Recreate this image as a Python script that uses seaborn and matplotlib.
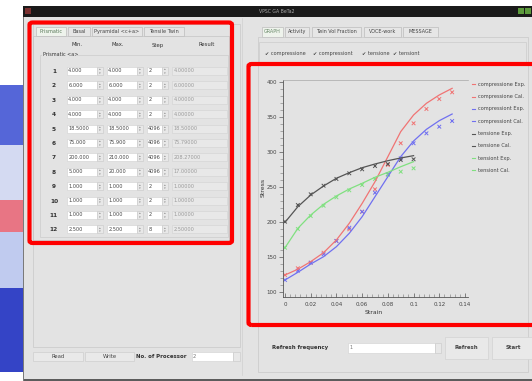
import matplotlib
matplotlib.use("Agg")
import matplotlib.pyplot as plt
import seaborn as sns
import pandas as pd
from matplotlib.patches import Rectangle, FancyBboxPatch
from matplotlib.lines import Line2D
from matplotlib.ticker import AutoMinorLocator

# ---------------- chart data ----------------
strain_comp = [0.00, 0.01, 0.02, 0.03, 0.04, 0.05, 0.06, 0.07, 0.08, 0.09, 0.10, 0.11, 0.12, 0.13]
comp_e_exp = [124.7, 134.3, 142.3, 156.6, 173.3, 190.0, 215.1, 247.1, 281.9, 312.9, 341.4, 361.9, 376.1, 385.7]
comp_e_cal = [124.7, 133.0, 143.8, 156.6, 174.8, 198.6, 227.0, 258.0, 293.7, 329.5, 353.3, 370.0, 381.9, 391.4]
comp_t_exp = [117.6, 130.9, 142.3, 154.3, 173.3, 192.3, 215.1, 242.3, 268.6, 291.4, 312.9, 327.1, 336.6, 344.7]
comp_t_cal = [117.6, 128.6, 140.4, 150.9, 165.2, 184.3, 208.0, 236.6, 265.2, 293.8, 316.1, 332.8, 345.2, 354.7]

strain_ten = [0.00, 0.01, 0.02, 0.03, 0.04, 0.05, 0.06, 0.07, 0.08, 0.09, 0.10]
ten_e_exp = [200.9, 224.7, 240.0, 252.3, 261.9, 270.0, 275.7, 280.4, 283.3, 289.0, 290.0]
ten_e_cal = [200.0, 222.3, 239.0, 251.9, 262.9, 270.9, 278.0, 283.3, 288.0, 291.9, 295.2]
ten_t_exp = [163.7, 190.4, 209.0, 223.7, 235.7, 245.7, 253.3, 261.9, 268.0, 272.3, 277.1]
ten_t_cal = [163.7, 191.4, 210.4, 225.7, 237.6, 247.6, 255.7, 264.3, 271.4, 279.4, 286.6]

legend_labels = ["compressione Exp.", "compressione Cal.", "compressiont Exp.", "compressiont Cal.",
                 "tensione Exp.", "tensione Cal.", "tensiont Exp.", "tensiont Cal."]
y_ticks = [100, 150, 200, 250, 300, 350, 400]
x_ticks = [0, 0.02, 0.04, 0.06, 0.08, 0.1, 0.12, 0.14]
x_tick_labels = ["0", "0.02", "0.04", "0.06", "0.08", "0.1", "0.12", "0.14"]

# ---------------- GUI texts ----------------
left_tabs = ["Prismatic", "Basal", "Pyramidal <c+a>", "Tensile Twin"]
right_tabs = ["GRAPH", "Activity", "Twin Vol Fraction", "VOCE-work", "MESSAGE"]
check_items = ["compressione", "compressiont", "tensione", "tensiont"]
row_labels = [str(i) for i in range(1, 13)]
min_vals = ["4.000", "6.000", "4.000", "4.000", "18.5000", "75.000", "200.000", "5.000", "1.000", "1.000", "1.000", "2.500"]
max_vals = ["4.000", "6.000", "4.000", "4.000", "18.5000", "75.900", "210.000", "20.000", "1.000", "1.000", "1.000", "2.500"]
step_vals = ["2", "2", "2", "2", "4096", "4096", "4096", "4096", "2", "2", "2", "8"]
result_vals = ["4.00000", "6.00000", "4.00000", "4.00000", "18.50000", "75.79000", "208.27000", "17.00000",
               "1.00000", "1.00000", "1.00000", "2.50000"]

W, H = 532, 381
fig = plt.figure(figsize=(W / 100, H / 100), dpi=100)
fig.patch.set_facecolor("white")


def R(x0, y0, x1, y1, fc="none", ec="none", lw=0.0, z=1, **kw):
    p = Rectangle((x0 / W, 1 - y1 / H), (x1 - x0) / W, (y1 - y0) / H, transform=fig.transFigure,
                  facecolor=fc, edgecolor=ec, linewidth=lw, zorder=z, **kw)
    fig.patches.append(p)
    return p


def T(x, y, s, size=4, color="#333333", ha="left", va="center", z=3, **kw):
    return fig.text(x / W, 1 - y / H, s, fontsize=size, color=color, ha=ha, va=va, zorder=z, **kw)


def L(x0, y0, x1, y1, color="#888888", lw=0.5, z=2):
    fig.lines.append(Line2D([x0 / W, x1 / W], [1 - y0 / H, 1 - y1 / H], transform=fig.transFigure,
                            color=color, linewidth=lw, zorder=z))


# desktop strip on the left
R(0, 85, 23, 145, fc="#5566d8")
R(0, 145, 23, 200, fc="#d4daf2")
R(0, 200, 23, 232, fc="#e87584")
R(0, 232, 23, 288, fc="#c0cbef")
R(0, 288, 23, 372, fc="#3444c6")

# window
R(23, 16, 532, 381, fc="#e3e3e3")
R(23, 378.5, 532, 381, fc="#5c5c5c")
R(23, 16, 24.2, 381, fc="#7a7a7a")
R(23, 6, 532, 16.5, fc="#1a1a1a")
R(25, 8, 31, 14, fc="#7a3030")
R(518, 8, 524, 14, fc="#5c9a3c")
R(525, 8, 531, 14, fc="#5c9a3c")
T(277, 11.5, "VPSC GA BeTa2", size=3.3, color="#aaaaaa", ha="center")

# ---- left panel ----
R(33, 24, 240, 347, ec="#c8c8c8", lw=0.5)
tab_x = [(36, 66), (68, 90), (92, 142), (144, 184)]
for (a, b), name in zip(tab_x, left_tabs):
    sel = name == "Prismatic"
    R(a, 27, b, 36, fc="#eef3ec" if sel else "#e6e6e6", ec="#bdbdbd", lw=0.5)
    T((a + b) / 2, 31.5, name, size=3.6, color="#5a7a5a" if sel else "#444444", ha="center")
R(33, 36, 229, 240, ec="#c4c4c4", lw=0.5)
for x, s in [(77, "Min."), (118, "Max."), (158, "Step"), (207, "Result")]:
    T(x, 45, s, size=3.8, ha="center")
R(40, 55, 228, 237, ec="#cccccc", lw=0.5)
R(42, 51, 77, 58, fc="#e3e3e3", z=1.5)
T(43, 54.5, "Prismatic <a>", size=3.5, z=3)

for i in range(12):
    yc = 71 + i * 14.4
    T(54, yc + 0.5, row_labels[i], size=4.2, weight="bold", ha="center", color="#333333")
    for (a, b), val in [((66.7, 96.7), min_vals[i]), ((106.7, 136.7), max_vals[i]),
                        ((146.7, 161.7), step_vals[i])]:
        R(a, yc - 4, b, yc + 4, fc="white", ec="#d0d0d0", lw=0.4)
        R(b, yc - 4, b + 6.6, yc + 4, fc="#e8e8e8", ec="#c8c8c8", lw=0.4)
        T(b + 3.3, yc - 1.5, "\u25b4", size=2.5, color="#888888", ha="center")
        T(b + 3.3, yc + 1.8, "\u25be", size=2.5, color="#888888", ha="center")
        T(a + 1.5, yc, val, size=3.6, color="#444444")
    R(171.7, yc - 4, 227, yc + 4, fc="#e8e8e8", ec="#d2d2d2", lw=0.4)
    T(173.5, yc, result_vals[i], size=3.6, color="#9a9a9a")

# left red box
fig.patches.append(FancyBboxPatch((29.5 / W, 1 - 243 / H), (232 - 29.5) / W, (243 - 22.5) / H,
                                  boxstyle="round,pad=0,rounding_size=0.006", transform=fig.transFigure,
                                  facecolor="none", edgecolor="#ff0000", linewidth=3.0, zorder=6))

# bottom-left buttons
R(33, 351.5, 82.7, 361, fc="#e9e9e9", ec="#cfcfcf", lw=0.5)
T(58, 356.3, "Read", size=3.8, ha="center", color="#444444")
R(85, 351.5, 134, 361, fc="#e9e9e9", ec="#cfcfcf", lw=0.5)
T(109.5, 356.3, "Write", size=3.8, ha="center", color="#444444")
T(136, 356.3, "No. of Processor", size=3.9, weight="bold", color="#333333")
R(191.7, 351.5, 233.3, 361, fc="white", ec="#d0d0d0", lw=0.4)
R(233.3, 351.5, 240, 361, fc="#e8e8e8", ec="#c8c8c8", lw=0.4)
T(193, 356.3, "2", size=3.8, color="#777777")

L(241.5, 18, 241.5, 375, color="#cfcfcf", lw=0.5)

# ---- right panel ----
rtab_x = [(262, 283), (285, 309), (312, 361), (364, 401), (403, 438)]
for (a, b), name in zip(rtab_x, right_tabs):
    sel = name == "GRAPH"
    R(a, 27, b, 36.5, fc="#eef3ec" if sel else "#e6e6e6", ec="#bdbdbd", lw=0.5)
    T((a + b) / 2, 31.8, name, size=3.5, color="#6a8a6a" if sel else "#444444", ha="center")
R(258, 36.5, 528, 372, ec="#c8c8c8", lw=0.5)
R(259, 42, 526, 63, ec="#cccccc", lw=0.5)
cx = [265, 313, 362, 393]
for x, name in zip(cx, check_items):
    T(x, 53.3, "\u2714 " + name, size=3.6, color="#444444")

# right red box
fig.patches.append(FancyBboxPatch((248.5 / W, 1 - 325 / H), (540 - 248.5) / W, (325 - 64) / H,
                                  boxstyle="round,pad=0,rounding_size=0.006", transform=fig.transFigure,
                                  facecolor="none", edgecolor="#ff0000", linewidth=3.0, zorder=6))

# bottom-right controls
T(272, 347.7, "Refresh frequency", size=3.9, weight="bold", color="#333333")
R(348, 343, 435, 352.5, fc="white", ec="#d0d0d0", lw=0.4)
R(435, 343, 441, 352.5, fc="#e8e8e8", ec="#c8c8c8", lw=0.4)
T(349.5, 347.7, "1", size=3.6, color="#777777")
R(445, 336.7, 488, 359, fc="#e9e9e9", ec="#d2d2d2", lw=0.5)
T(466.5, 347.7, "Refresh", size=3.9, weight="bold", ha="center", color="#444444")
R(491.7, 336.7, 536, 359, fc="#e9e9e9", ec="#d2d2d2", lw=0.5)
T(513, 347.7, "Start", size=3.9, weight="bold", ha="center", color="#444444")

# ---------------- chart ----------------
ax_l, ax_r, ax_t, ax_b = 283, 468, 80, 296.7
ax = fig.add_axes([ax_l / W, 1 - ax_b / H, (ax_r - ax_l) / W, (ax_b - ax_t) / H])
ax.set_zorder(5)
ax.patch.set_alpha(0)

pal = {"compressione": "#f07474", "compressiont": "#7070f0", "tensione": "#555555", "tensiont": "#80e080"}

exp_df = pd.concat([
    pd.DataFrame({"strain": strain_comp, "stress": comp_e_exp, "series": "compressione"}),
    pd.DataFrame({"strain": strain_comp, "stress": comp_t_exp, "series": "compressiont"}),
    pd.DataFrame({"strain": strain_ten, "stress": ten_e_exp, "series": "tensione"}),
    pd.DataFrame({"strain": strain_ten, "stress": ten_t_exp, "series": "tensiont"}),
], ignore_index=True)
cal_df = pd.concat([
    pd.DataFrame({"strain": strain_comp, "stress": comp_e_cal, "series": "compressione"}),
    pd.DataFrame({"strain": strain_comp, "stress": comp_t_cal, "series": "compressiont"}),
    pd.DataFrame({"strain": strain_ten, "stress": ten_e_cal, "series": "tensione"}),
    pd.DataFrame({"strain": strain_ten, "stress": ten_t_cal, "series": "tensiont"}),
], ignore_index=True)

sns.lineplot(data=cal_df, x="strain", y="stress", hue="series", palette=pal, estimator=None,
             linewidth=0.9, legend=False, ax=ax)
sns.scatterplot(data=exp_df, x="strain", y="stress", hue="series", palette=pal, marker="x",
                s=7, linewidth=0.7, legend=False, ax=ax)

px_per_x = (465 - 285) / 0.14
px_per_y = 35 / 50
ax.set_xlim((ax_l - 285) / px_per_x, (ax_r - 285) / px_per_x)
ax.set_ylim(100 - (ax_b - 292.3) / px_per_y, 100 + (292.3 - ax_t) / px_per_y)

ax.set_yticks(y_ticks)
ax.set_yticklabels([str(v) for v in y_ticks])
ax.set_xticks(x_ticks)
ax.set_xticklabels(x_tick_labels)
ax.yaxis.set_minor_locator(AutoMinorLocator(5))
ax.xaxis.set_minor_locator(AutoMinorLocator(5))
ax.tick_params(axis="y", which="major", direction="out", length=3, width=0.5, color="#555555",
               labelsize=4.0, labelcolor="#444444", pad=1.5)
ax.tick_params(axis="y", which="minor", direction="out", length=2, width=0.4, color="#777777")
ax.tick_params(axis="x", which="major", direction="in", length=3, width=0.5, color="#555555",
               labelsize=4.0, labelcolor="#444444", pad=4)
ax.tick_params(axis="x", which="minor", direction="in", length=2, width=0.4, color="#777777")
for s in ["left", "bottom"]:
    ax.spines[s].set_color("#555555")
    ax.spines[s].set_linewidth(0.6)
ax.spines["top"].set_color("#a8a8a8")
ax.spines["top"].set_linewidth(0.5)
ax.spines["right"].set_visible(False)
ax.set_xlabel("")
ax.set_ylabel("")
T(263.5, 187, "Stress", size=4.4, color="#333333", ha="center", rotation=90, z=7)
T(373.5, 312.7, "Strain", size=4.4, color="#333333", ha="center", z=7)

# legend beside the plot
for i, lab in enumerate(legend_labels):
    yc = 84.3 + i * 12.3
    key = lab.split()[0]
    L(472.2, yc, 474.8, yc, color=pal[key], lw=0.8, z=7)
    T(478.3, yc, lab, size=3.6, color="#444444", z=7)

fig.savefig("out.png", dpi=100)
